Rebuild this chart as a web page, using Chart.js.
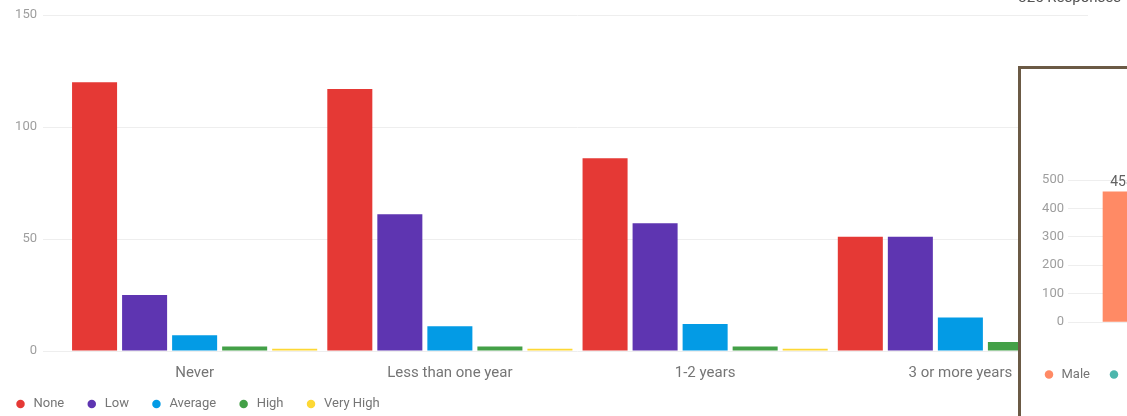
<!DOCTYPE html>
<html>
<head>
<meta charset="utf-8">
<script src="https://cdn.jsdelivr.net/npm/chart.js@4.4.1/dist/chart.umd.min.js"></script>
<style>
  html, body { margin: 0; padding: 0; background: #fff; }
  body { position: relative; width: 1127px; height: 416px; overflow: hidden; font-family: Roboto, Arial, sans-serif; }
  #main { position: absolute; left: 0; top: 0; }
  #count { position: absolute; right: 6px; top: -12px; font-size: 15px; color: #555; white-space: nowrap; }
  #panel { position: absolute; left: 1018px; top: 66px; width: 420px; height: 400px;
           border: 3px solid #6b5a45; background: #fff; }
  #panel canvas { position: absolute; left: 0; top: 0; }
</style>
</head>
<body>
<canvas id="main" width="1127" height="426"></canvas>
<div id="count">325 Responses</div>
<div id="panel"><canvas id="inset" width="260" height="322"></canvas></div>

<script>
// Experience groups and answer counts per level
const categories = ['Never', 'Less than one year', '1-2 years', '3 or more years'];
const levelNames = ['None', 'Low', 'Average', 'High', 'Very High'];
const noneCounts = [120, 117, 86, 51];
const lowCounts = [25, 61, 57, 51];
const averageCounts = [7, 11, 12, 15];
const highCounts = [2, 2, 2, 4];
const veryHighCounts = [1, 1, 1, 1];
const yTicks = [0, 50, 100, 150];

// Gender panel
const genderCategories = ['Gender'];
const maleCounts = [458];
const femaleCounts = [];
const genderTicks = [0, 100, 200, 300, 400, 500];

const levelColors = ['#e53935', '#5e35b1', '#039be5', '#43a047', '#fdd835'];
const levelSeries = [noneCounts, lowCounts, averageCounts, highCounts, veryHighCounts];

const FONT = 'Roboto, Arial, sans-serif';
const TEXT = '#757575';
const TICK = '#9e9e9e';
const GRID = '#eeeeee';

// Moves the legend block by a fixed offset once layout is done
const legendShift = {
  id: 'legendShift',
  afterLayout(chart, args, opts) {
    const lg = chart.legend;
    if (!lg) return;
    const dx = opts.x || 0, dy = opts.y || 0;
    lg.left += dx; lg.right += dx;
    lg.top += dy; lg.bottom += dy;
  }
};

new Chart(document.getElementById('main'), {
  type: 'bar',
  data: {
    labels: categories,
    datasets: levelSeries.map((values, i) => ({
      label: levelNames[i],
      data: values,
      backgroundColor: levelColors[i],
      borderWidth: 0,
      categoryPercentage: 0.98,
      barPercentage: 0.9
    }))
  },
  plugins: [legendShift],
  options: {
    responsive: false,
    animation: false,
    layout: { padding: { top: 15, right: 39, left: 0, bottom: 0 } },
    plugins: {
      tooltip: { enabled: false },
      legendShift: { x: -7, y: -5.5 },
      legend: {
        position: 'bottom',
        align: 'start',
        labels: {
          usePointStyle: true,
          pointStyle: 'circle',
          boxWidth: 13,
          boxHeight: 6,
          padding: 21,
          color: TEXT,
          font: { family: FONT, size: 13 }
        }
      }
    },
    scales: {
      x: {
        grid: { display: false, drawTicks: false },
        border: { display: false },
        ticks: { color: TEXT, padding: 13.5, font: { family: FONT, size: 15 } },
        afterFit: (s) => { s.height = 31; }
      },
      y: {
        min: yTicks[0],
        max: yTicks[yTicks.length - 1],
        afterBuildTicks: (s) => { s.ticks = yTicks.map(v => ({ value: v })); },
        grid: { color: GRID, lineWidth: 1, drawTicks: true, tickLength: 24, tickColor: GRID },
        border: { display: false },
        ticks: { color: TICK, padding: 6, font: { family: FONT, size: 13 } },
        afterFit: (s) => { s.width = 67; }
      }
    }
  }
});

// Writes each bar's value just above it
const barValueLabels = {
  id: 'barValueLabels',
  afterDatasetsDraw(chart) {
    const ctx = chart.ctx;
    ctx.save();
    ctx.font = '14px ' + FONT;
    ctx.fillStyle = '#616161';
    ctx.textAlign = 'center';
    ctx.textBaseline = 'bottom';
    chart.data.datasets.forEach((ds, di) => {
      chart.getDatasetMeta(di).data.forEach((bar, i) => {
        const v = ds.data[i];
        if (v === undefined || v === null) return;
        ctx.fillText(String(v), bar.x, bar.y - 2);
      });
    });
    ctx.restore();
  }
};

new Chart(document.getElementById('inset'), {
  type: 'bar',
  data: {
    labels: genderCategories,
    datasets: [
      { label: 'Male', data: maleCounts, backgroundColor: '#ff8a65', borderWidth: 0, barThickness: 38 },
      { label: 'Female', data: femaleCounts, backgroundColor: '#4db6ac', borderWidth: 0, barThickness: 38 }
    ]
  },
  plugins: [barValueLabels],
  options: {
    responsive: false,
    animation: false,
    layout: { padding: { top: 111, right: 79, left: 4, bottom: 0 } },
    plugins: {
      tooltip: { enabled: false },
      legend: {
        position: 'bottom',
        align: 'start',
        labels: {
          usePointStyle: true,
          pointStyle: 'circle',
          boxWidth: 12,
          boxHeight: 6,
          padding: 18,
          color: TEXT,
          font: { family: FONT, size: 13 }
        }
      }
    },
    scales: {
      x: {
        grid: { display: false, drawTicks: false },
        border: { display: false },
        ticks: { display: false },
        afterFit: (s) => { s.height = 28; }
      },
      y: {
        min: genderTicks[0],
        max: genderTicks[genderTicks.length - 1],
        afterBuildTicks: (s) => { s.ticks = genderTicks.map(v => ({ value: v })); },
        grid: { color: GRID, drawTicks: true, tickLength: 12, tickColor: GRID },
        border: { display: false },
        ticks: { color: TICK, padding: 4, font: { family: FONT, size: 13 } },
        afterFit: (s) => { s.width = 55; }
      }
    }
  }
});
</script>
</body>
</html>
